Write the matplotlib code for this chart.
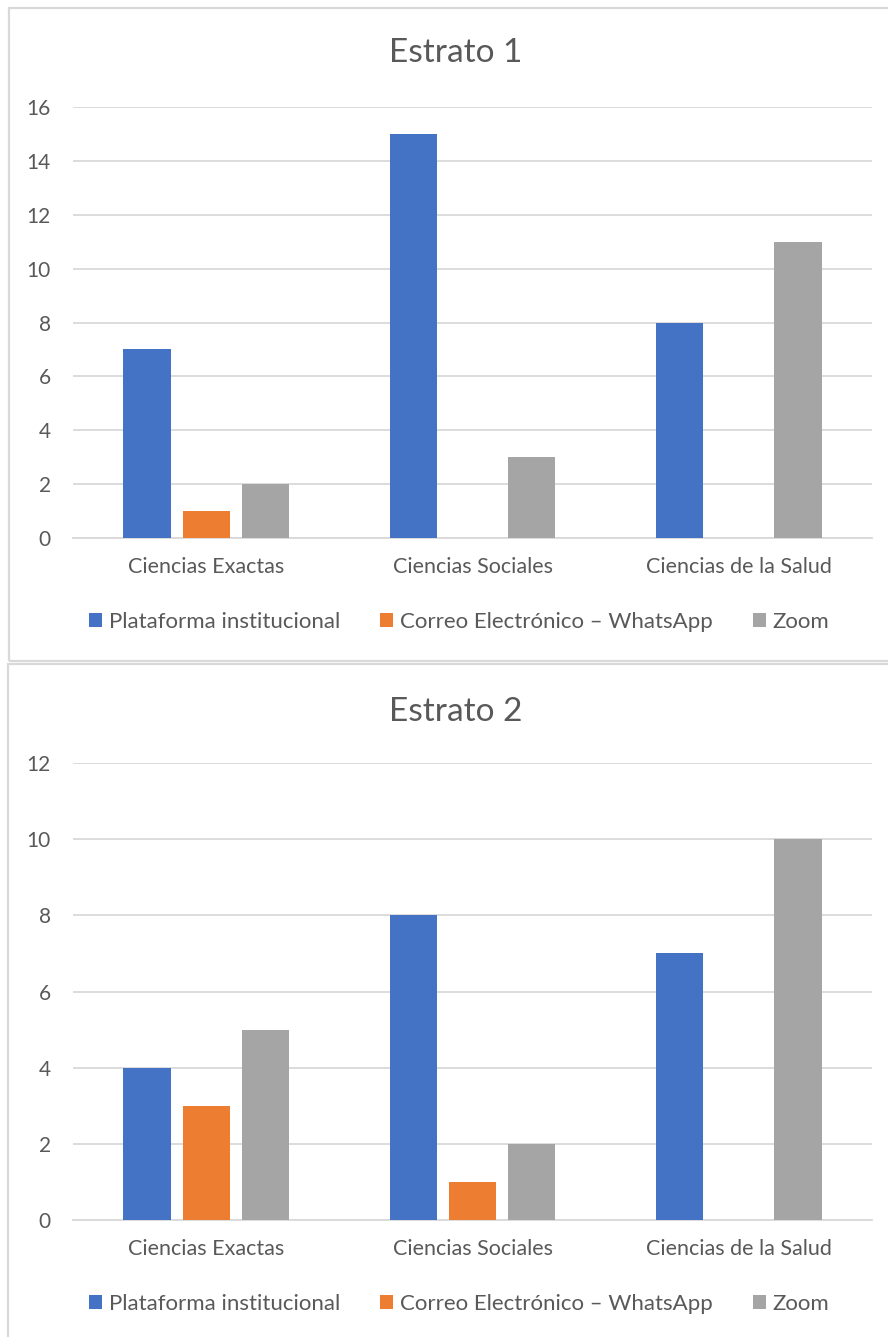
import numpy as np
import matplotlib.pyplot as plt
from matplotlib.patches import Rectangle

plt.rcParams['font.family'] = ['Lato', 'DejaVu Sans']

categories = ["Ciencias Exactas", "Ciencias Sociales", "Ciencias de la Salud"]
series_names = ["Plataforma institucional", "Correo Electrónico – WhatsApp", "Zoom"]
colors = ["#4472C4", "#ED7D31", "#A5A5A5"]

estrato1_plataforma = [7, 15, 8]
estrato1_correo = [1, 0, 0]
estrato1_zoom = [2, 3, 11]

estrato2_plataforma = [4, 8, 7]
estrato2_correo = [3, 1, 0]
estrato2_zoom = [5, 2, 10]

W, H = 888, 1337
DPI = 100
TEXT = "#595959"
GRID = "#D9D9D9"

fig = plt.figure(figsize=(W / DPI, H / DPI), dpi=DPI)


def px_axes(x0, y_top, x1, y_bottom):
    return fig.add_axes([x0 / W, 1 - y_bottom / H, (x1 - x0) / W, (y_bottom - y_top) / H])


# panel frames
fig.add_artist(Rectangle((9 / W, 1 - 661 / H), (W + 20) / W, (661 - 8) / H,
                         transform=fig.transFigure, fill=False, edgecolor=GRID, lw=1.6))
fig.add_artist(Rectangle((8 / W, -20 / H), (W + 20) / W, (H + 20 - 664) / H,
                         transform=fig.transFigure, fill=False, edgecolor=GRID, lw=1.6))


def draw_chart(ax, title, data, ymax, title_y, legend_y):
    x = np.arange(len(categories))
    offsets = [-0.222, 0.0, 0.222]
    handles = []
    for vals, name, col, off in zip(data, series_names, colors, offsets):
        b = ax.bar(x + off, vals, width=0.177, color=col, label=name, zorder=3)
        handles.append(b)
    ax.set_xlim(-0.5, 2.5)
    ax.set_ylim(0, ymax)
    ax.set_yticks(np.arange(0, ymax + 1, 2))
    ax.yaxis.grid(True, color=GRID, lw=1.3, zorder=0)
    ax.set_axisbelow(True)
    for s in ["top", "right", "left"]:
        ax.spines[s].set_visible(False)
    ax.spines["bottom"].set_color(GRID)
    ax.spines["bottom"].set_linewidth(1.3)
    ax.set_xticks(x)
    ax.set_xticklabels(categories)
    ax.tick_params(axis="x", length=0, pad=14, labelsize=15.5, labelcolor=TEXT)
    ax.tick_params(axis="y", length=0, pad=16, labelsize=15, labelcolor=TEXT)
    for lbl in ax.get_yticklabels():
        lbl.set_horizontalalignment("right")
    fig.text(456 / W, 1 - title_y / H, title, ha="center", va="center",
             fontsize=24, color=TEXT)
    fig.legend(handles=handles, labels=series_names, loc="center",
               bbox_to_anchor=(459 / W, 1 - legend_y / H), ncol=3, frameon=False,
               handlelength=0.6, handleheight=0.6, handletextpad=0.3,
               columnspacing=1.8, fontsize=16, labelcolor=TEXT)


ax1 = px_axes(73, 107, 872, 538)
draw_chart(ax1, "Estrato 1",
           [estrato1_plataforma, estrato1_correo, estrato1_zoom], 16, 53, 622)

ax2 = px_axes(73, 763, 872, 1220)
draw_chart(ax2, "Estrato 2",
           [estrato2_plataforma, estrato2_correo, estrato2_zoom], 12, 712, 1304)

fig.savefig("out.png", dpi=DPI, facecolor="white")
